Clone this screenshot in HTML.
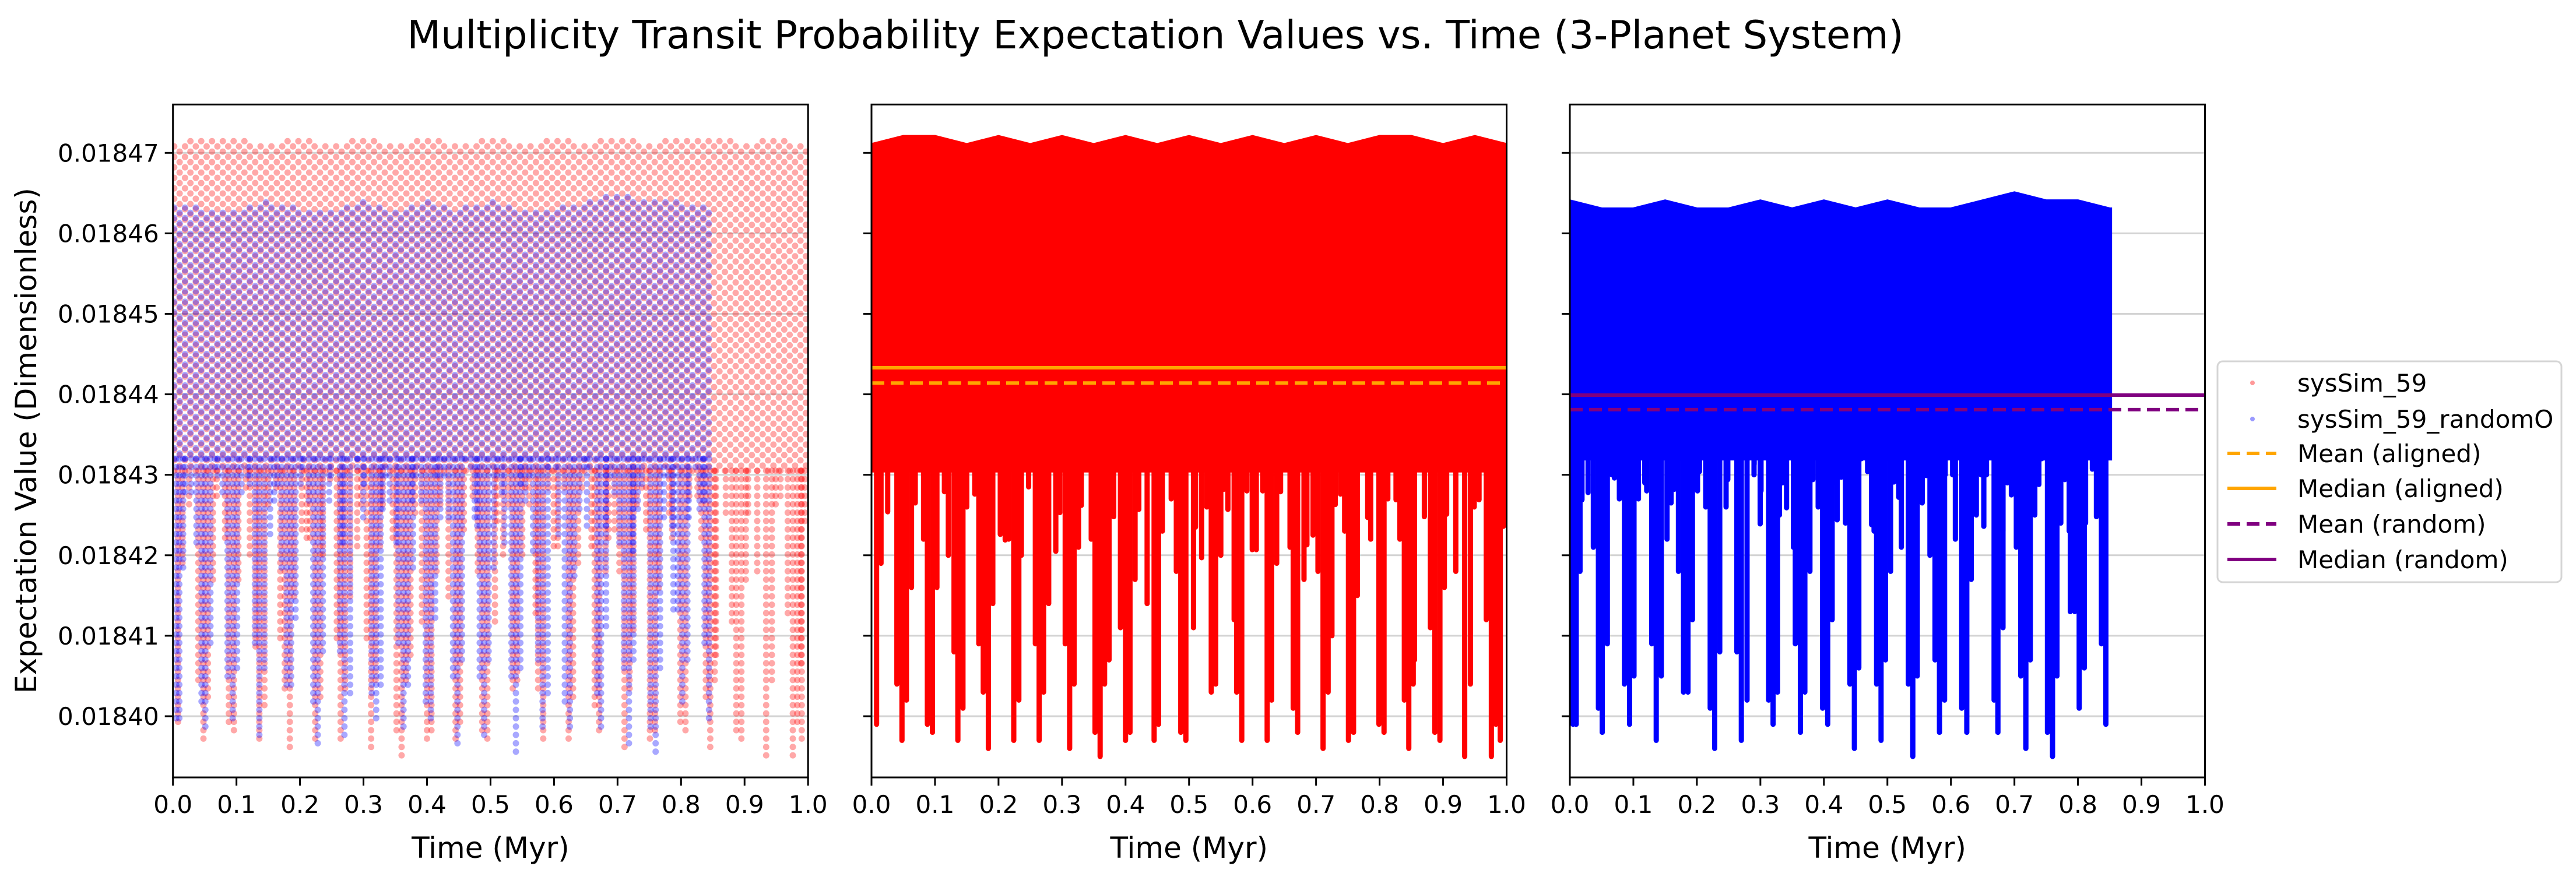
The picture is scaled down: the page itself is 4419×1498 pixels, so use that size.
<!DOCTYPE html>
<html><head><meta charset="utf-8">
<style>
html,body{margin:0;padding:0;background:#fff;}
svg{display:block;font-family:"DejaVu Sans","Liberation Sans",sans-serif;}
</style></head>
<body>
<svg id="chart" width="4419" height="1498" viewBox="0 0 4419 1498" xmlns="http://www.w3.org/2000/svg">
<rect x="0" y="0" width="4419" height="1498" fill="#fff"/>
<text x="1982" y="83" font-size="67" text-anchor="middle" fill="#000">Multiplicity Transit Probability Expectation Values vs. Time (3-Planet System)</text>
<g id="panels"></g>
<g id="legend">
<rect x="3804" y="620" width="590" height="379" rx="9" fill="#fff" fill-opacity="0.8" stroke="#d5d5d5" stroke-width="3"/>
<circle cx="3864" cy="657" r="4" fill="#ff0000" fill-opacity="0.4"/>
<text x="3941" y="672" font-size="42">sysSim_59</text>
<circle cx="3864" cy="719" r="4" fill="#0000ff" fill-opacity="0.4"/>
<text x="3941" y="734" font-size="42">sysSim_59_randomO</text>
<line x1="3821" y1="778" x2="3905" y2="778" stroke="orange" stroke-width="6" stroke-dasharray="22,11"/>
<text x="3941" y="793" font-size="42">Mean (aligned)</text>
<line x1="3821" y1="838" x2="3905" y2="838" stroke="orange" stroke-width="6"/>
<text x="3941" y="853" font-size="42">Median (aligned)</text>
<line x1="3821" y1="899" x2="3905" y2="899" stroke="purple" stroke-width="6" stroke-dasharray="22,11"/>
<text x="3941" y="914" font-size="42">Mean (random)</text>
<line x1="3821" y1="960" x2="3905" y2="960" stroke="purple" stroke-width="6"/>
<text x="3941" y="975" font-size="42">Median (random)</text>
</g>
</svg>
<script>
// ---- data ----
const xTicks = [0.0,0.1,0.2,0.3,0.4,0.5,0.6,0.7,0.8,0.9,1.0];
const yTicks = [0.01840,0.01841,0.01842,0.01843,0.01844,0.01845,0.01846,0.01847];
const yTickLabels = ["0.01840","0.01841","0.01842","0.01843","0.01844","0.01845","0.01846","0.01847"];
const redUpT = [0,0.05,0.1,0.15,0.2,0.25,0.3,0.35,0.4,0.45,0.5,0.55,0.6,0.65,0.7,0.75,0.8,0.85,0.9,0.95,1.0];
const redUpV = [0.018471,0.018472,0.018472,0.018471,0.018472,0.018471,0.018472,0.018471,0.018472,0.018471,0.018472,0.018471,0.018472,0.018471,0.018472,0.018471,0.018472,0.018472,0.018471,0.018472,0.018471];
const redBandLow = 0.0184305;
const redEnd = 1.0;
const redSpikeT = [0.008,0.048,0.055,0.088,0.096,0.136,0.144,0.176,0.184,0.224,0.232,0.264,0.271,0.312,0.319,0.352,0.36,0.367,0.4,0.407,0.445,0.452,0.487,0.495,0.535,0.542,0.575,0.583,0.623,0.63,0.664,0.671,0.711,0.719,0.751,0.759,0.799,0.807,0.839,0.846,0.853,0.887,0.895,0.934,0.943,0.976,0.983,0.99,
 0.015,0.04,0.063,0.082,0.103,0.121,0.13,0.15,0.169,0.191,0.216,0.236,0.258,0.279,0.305,0.326,0.346,0.374,0.392,0.415,0.434,0.458,0.48,0.507,0.528,0.55,0.571,0.591,0.616,0.638,0.659,0.681,0.703,0.725,0.745,0.765,0.786,0.813,0.832,0.855,0.88,0.902,0.92,0.949,0.968,0.989];
const redSpikeV = [0.018399,0.018397,0.018402,0.018399,0.018398,0.018397,0.018401,0.018403,0.018396,0.018397,0.018402,0.018397,0.018403,0.018396,0.018404,0.018398,0.018395,0.018404,0.018397,0.018398,0.018397,0.018399,0.018398,0.018397,0.018403,0.018404,0.018403,0.018397,0.018397,0.018402,0.018401,0.018398,0.018396,0.018403,0.018397,0.018398,0.018399,0.018398,0.018402,0.018396,0.018404,0.018398,0.018397,0.018395,0.018404,0.018395,0.018399,0.018397,
 0.018419,0.018404,0.018416,0.018422,0.018416,0.018420,0.018408,0.018426,0.018409,0.018414,0.018422,0.018420,0.018409,0.018414,0.018409,0.018421,0.018422,0.018407,0.018411,0.018417,0.018414,0.018423,0.018418,0.018411,0.018426,0.018420,0.018412,0.018428,0.018428,0.018419,0.018421,0.018417,0.018418,0.018410,0.018423,0.018415,0.018422,0.018427,0.018422,0.018407,0.018411,0.018416,0.018418,0.018426,0.018412,0.018406];
const redShallowT = [0.0255,0.0689,0.1148,0.1626,0.2028,0.2105,0.2474,0.2902,0.2966,0.3304,0.3814,0.4209,0.4719,0.5102,0.5198,0.5548,0.5612,0.5995,0.6059,0.6441,0.6856,0.6952,0.7302,0.7385,0.7813,0.8259,0.8705,0.9056,0.9566,0.9949];
const redShallowV = [0.0184254,0.0184265,0.0184279,0.0184276,0.0184226,0.0184219,0.0184285,0.0184205,0.0184253,0.0184262,0.0184248,0.0184257,0.018427,0.0184235,0.0184197,0.0184282,0.0184257,0.0184207,0.0184207,0.0184279,0.0184213,0.0184225,0.0184263,0.0184276,0.0184247,0.0184269,0.0184248,0.0184251,0.0184269,0.0184236];
const blueUpT = [0,0.05,0.1,0.15,0.2,0.25,0.3,0.35,0.4,0.45,0.5,0.55,0.6,0.65,0.7,0.75,0.8,0.85];
const blueUpV = [0.018464,0.018463,0.018463,0.018464,0.018463,0.018463,0.018464,0.018463,0.018464,0.018463,0.018464,0.018463,0.018463,0.018464,0.018465,0.018464,0.018464,0.018463];
const blueBandLow = 0.018432;
const blueEnd = 0.851;
const blueSpikeT = [0.005,0.01,0.045,0.051,0.059,0.086,0.094,0.101,0.129,0.136,0.144,0.179,0.186,0.193,0.221,0.228,0.236,0.263,0.27,0.279,0.313,0.32,0.327,0.355,0.363,0.37,0.398,0.406,0.413,0.441,0.448,0.455,0.483,0.49,0.497,0.533,0.54,0.547,0.575,0.582,0.59,0.617,0.625,0.632,0.668,0.674,0.682,0.71,0.718,0.725,0.752,0.76,0.767,0.795,0.802,0.81,0.837,0.844,
 0.016,0.037,0.066,0.078,0.108,0.121,0.153,0.171,0.201,0.214,0.246,0.267,0.29,0.301,0.33,0.352,0.378,0.391,0.416,0.434,0.459,0.479,0.505,0.522,0.548,0.567,0.591,0.607,0.64,0.656,0.682,0.703,0.724,0.743,0.773,0.788,0.812,0.835];
const blueSpikeV = [0.018399,0.018399,0.018401,0.018398,0.018409,0.018404,0.018399,0.018405,0.018409,0.018397,0.018405,0.018403,0.018403,0.018412,0.018401,0.018396,0.018408,0.018408,0.018397,0.018402,0.018402,0.018399,0.018403,0.018409,0.018398,0.018403,0.018401,0.018399,0.018412,0.018404,0.018396,0.018406,0.018404,0.018397,0.018407,0.018404,0.018395,0.018405,0.018407,0.018398,0.018402,0.018401,0.018398,0.018417,0.018402,0.018398,0.018411,0.018405,0.018396,0.018407,0.018398,0.018395,0.018405,0.018413,0.018401,0.018406,0.018409,0.018399,
 0.018418,0.018421,0.018430,0.018427,0.018427,0.018428,0.018422,0.018418,0.018428,0.018426,0.018426,0.018421,0.018430,0.018428,0.018425,0.018421,0.018418,0.018426,0.018429,0.018424,0.018432,0.018423,0.018418,0.018421,0.018428,0.018420,0.018430,0.018422,0.018425,0.018430,0.018423,0.018421,0.018420,0.018432,0.018424,0.018413,0.018424,0.018426];
const blueShallowT = [0.0191,0.0287,0.0702,0.118,0.1594,0.1645,0.2041,0.2487,0.2902,0.2997,0.3348,0.3412,0.3763,0.3827,0.4209,0.4273,0.4688,0.4751,0.5102,0.5179,0.5548,0.5612,0.6027,0.6473,0.6518,0.6888,0.6952,0.7321,0.7385,0.7793,0.7863,0.8227,0.8291];
const blueShallowV = [0.0184269,0.0184278,0.0184296,0.018429,0.0184265,0.0184282,0.0184304,0.0184294,0.0184313,0.0184239,0.018429,0.0184259,0.0184267,0.0184294,0.0184244,0.0184297,0.0184304,0.0184238,0.0184291,0.0184272,0.0184265,0.0184299,0.01843,0.01843,0.0184236,0.018429,0.0184275,0.018425,0.0184288,0.0184294,0.018423,0.0184307,0.0184248];
const meanAligned = 0.0184414, medianAligned = 0.0184433;
const meanRandom = 0.0184381, medianRandom = 0.0184399;

// ---- layout ----
const NS = "http://www.w3.org/2000/svg";
const panelsG = document.getElementById('panels');
const PX = [296.7, 1495, 2693], PW = 1089.5, PT = 179.3, PB = 1334;
const Y0 = 262.3, YPER = 13810000;
function yS(v){ return Y0 + (0.01847 - v) * YPER; }
function mk(tag, attrs, parent){ const e=document.createElementNS(NS,tag); for(const k in attrs) e.setAttribute(k,attrs[k]); parent.appendChild(e); return e; }
function interp(ts, vs, t){ for(let i=1;i<ts.length;i++){ if(t<=ts[i]){ const f=(t-ts[i-1])/(ts[i]-ts[i-1]); return vs[i-1]+f*(vs[i]-vs[i-1]); } } return vs[vs.length-1]; }

function frame(p, idx){
  const L = PX[p]; const xS = t => L + t*PW;
  const g = mk('g',{},panelsG);
  
  
  const clipId='clip'+p;
  const cp = mk('clipPath',{id:clipId},g);
  mk('rect',{x:L,y:PT,width:PW,height:PB-PT},cp);
  yTicks.forEach((v,i)=>{
    const ln = mk('line',{x1:L,x2:L+PW,y1:yS(v),y2:yS(v),stroke:'#d3d3d3','stroke-width':3},g);
    
    
  });
  const plot = mk('g',{'clip-path':'url(#'+clipId+')'},g);
  return {g, plot, xS, L};
}
function axes(fr, p, withYLabels){
  const {g,xS,L} = fr;
  const sp = mk('rect',{x:L,y:PT,width:PW,height:PB-PT,fill:'none',stroke:'#000','stroke-width':3},g);
  
  
  xTicks.forEach((t,i)=>{
    mk('line',{x1:xS(t),x2:xS(t),y1:PB,y2:PB+14,stroke:'#000','stroke-width':3},g);
    const tx = mk('text',{x:xS(t),y:1395,'font-size':42,'text-anchor':'middle'},g);
    tx.textContent = t.toFixed(1);
    
    
  });
  yTicks.forEach((v,i)=>{
    mk('line',{x1:L-14,x2:L,y1:yS(v),y2:yS(v),stroke:'#000','stroke-width':3},g);
    if(withYLabels){
      const tx = mk('text',{x:L-24,y:yS(v)+15,'font-size':42,'text-anchor':'end'},g);
      tx.textContent = yTickLabels[i];
      
      
    }
  });
  const xl = mk('text',{x:L+PW/2,y:1472,'font-size':50,'text-anchor':'middle'},g);
  xl.textContent = 'Time (Myr)';
  
  
}

function scatter(plot, xS, upT, upV, low, end, spT, spV, shT, shV, color, name){
  const g = mk('g',{fill:color,'fill-opacity':0.34},plot);
  
  
  const dt = 0.0085, dv = 0.0000013;
  let col = 0;
  for(let t=0.002; t<=end; t+=dt, col++){
    const up = interp(upT, upV, t);
    const off = (col%2)*dv/2;
    for(let v=low+off; v<=up; v+=dv){
      mk('circle',{cx:xS(t),cy:yS(v),r:5.5},g);
    }
  }
  const allT = spT.concat(shT), allV = spV.concat(shV);
  allT.forEach((t,i)=>{
    for(let v=low; v>=allV[i]; v-=dv*0.8){
      mk('circle',{cx:xS(t),cy:yS(v),r:5.5},g);
    }
  });
}
function lineSeries(plot, xS, upT, upV, low, end, spT, spV, shT, shV, color, name){
  const g = mk('g',{},plot);
  
  
  let d = 'M'+xS(0)+','+yS(low);
  upT.forEach((t,i)=>{ if(t<=end) d += ' L'+xS(t)+','+yS(upV[i]); });
  d += ' L'+xS(end)+','+yS(interp(upT,upV,end))+' L'+xS(end)+','+yS(low)+' Z';
  const band = mk('path',{d:d,fill:color,stroke:color,'stroke-width':6},g);
  
  
  const allT = spT.concat(shT), allV = spV.concat(shV);
  allT.forEach((t,i)=>{
    const s = mk('line',{x1:xS(t),x2:xS(t),y1:yS(low),y2:yS(allV[i]),stroke:color,'stroke-width':9,'stroke-linecap':'round'},g);
    
    
  });
}
function hline(plot, xS, v, color, dashed, name){
  const a = {x1:xS(0),x2:xS(1),y1:yS(v),y2:yS(v),stroke:color,'stroke-width':6};
  if(dashed) a['stroke-dasharray']='22,11';
  const l = mk('line',a,plot);
  
  
}

const f1 = frame(0,1);
scatter(f1.plot, f1.xS, redUpT, redUpV, redBandLow, redEnd, redSpikeT, redSpikeV, redShallowT, redShallowV, '#ff0000', 'scatter-syssim59');
scatter(f1.plot, f1.xS, blueUpT, blueUpV, blueBandLow, blueEnd, blueSpikeT, blueSpikeV, blueShallowT, blueShallowV, '#0000ff', 'scatter-randomo');
axes(f1, 0, true);
const yl = mk('text',{x:0,y:0,'font-size':50,'text-anchor':'middle',transform:'translate(62,756) rotate(-90)'},f1.g);
yl.textContent = 'Expectation Value (Dimensionless)';



const f2 = frame(1,2);
lineSeries(f2.plot, f2.xS, redUpT, redUpV, redBandLow, redEnd, redSpikeT, redSpikeV, redShallowT, redShallowV, '#ff0000', 'line-syssim59');
hline(f2.plot, f2.xS, medianAligned, 'orange', false, 'median-aligned-line');
hline(f2.plot, f2.xS, meanAligned, 'orange', true, 'mean-aligned-line');
axes(f2, 1, false);

const f3 = frame(2,3);
lineSeries(f3.plot, f3.xS, blueUpT, blueUpV, blueBandLow, blueEnd, blueSpikeT, blueSpikeV, blueShallowT, blueShallowV, '#0000ff', 'line-randomo');
hline(f3.plot, f3.xS, medianRandom, 'purple', false, 'median-random-line');
hline(f3.plot, f3.xS, meanRandom, 'purple', true, 'mean-random-line');
axes(f3, 2, false);
</script>
</body></html>
